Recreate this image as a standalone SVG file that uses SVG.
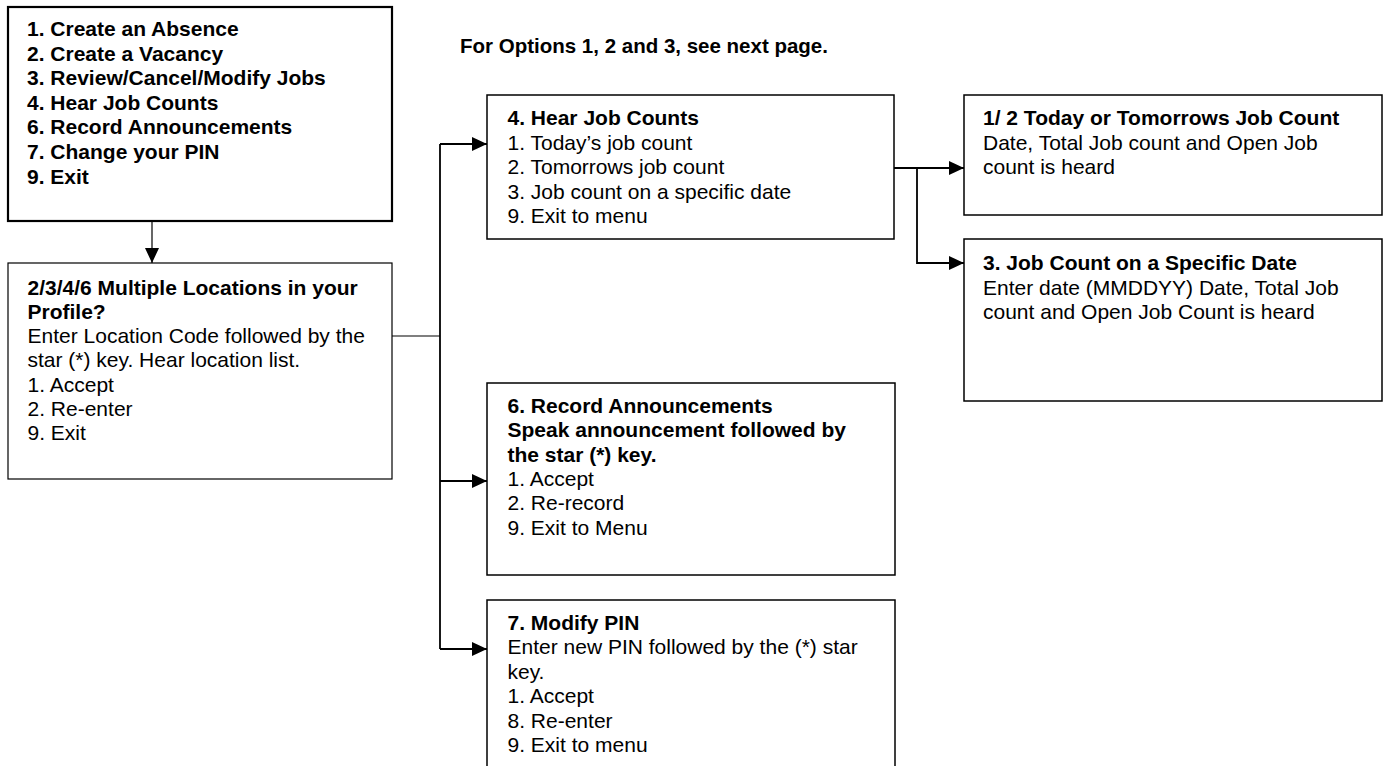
<svg xmlns="http://www.w3.org/2000/svg" width="1400" height="766" viewBox="0 0 1400 766">
  <style>
    .box { fill: #ffffff; stroke: #000000; stroke-width: 1.5; }
    .box.heavy { stroke-width: 2.2; }
    .box.light { stroke-width: 1.2; }
    .wire { fill: none; stroke: #000000; stroke-width: 1.8; }
    .wire.thin { stroke-width: 1.2; }
    text { font-family: "Liberation Sans", Arial, sans-serif; font-size: 21px; fill: #000000; }
    .b { font-weight: bold; }
  </style>
  <defs>
    <marker id="arrow" markerUnits="userSpaceOnUse" markerWidth="16" markerHeight="14" refX="15" refY="7" orient="auto">
      <path d="M0,0 L15,7 L0,14 z" fill="#000000"/>
    </marker>
  </defs>

  <rect width="1400" height="766" fill="#ffffff"/>

  <!-- connectors -->
  <g id="connectors">
    <line class="wire thin" x1="152" y1="215" x2="152" y2="263" marker-end="url(#arrow)"/>
    <polyline class="wire thin" points="392,336 440,336"/>
    <line class="wire" x1="440" y1="144" x2="440" y2="649"/>
    <line class="wire" x1="440" y1="144" x2="487" y2="144" marker-end="url(#arrow)"/>
    <line class="wire" x1="440" y1="481" x2="487" y2="481" marker-end="url(#arrow)"/>
    <line class="wire" x1="440" y1="649" x2="487" y2="649" marker-end="url(#arrow)"/>
    <line class="wire" x1="894" y1="168" x2="964" y2="168" marker-end="url(#arrow)"/>
    <polyline class="wire" points="917,168 917,263 964,263" marker-end="url(#arrow)"/>
  </g>

  <!-- main menu -->
  <g id="main-menu">
    <rect class="box heavy" x="8" y="7" width="384" height="214"/>
    <text class="b" x="27" y="36">1. Create an Absence</text>
    <text class="b" x="27" y="60.6">2. Create a Vacancy</text>
    <text class="b" x="27" y="85.2">3. Review/Cancel/Modify Jobs</text>
    <text class="b" x="27" y="109.8">4. Hear Job Counts</text>
    <text class="b" x="27" y="134.4">6. Record Announcements</text>
    <text class="b" x="27" y="159">7. Change your PIN</text>
    <text class="b" x="27" y="183.6">9. Exit</text>
  </g>

  <g id="note">
    <text class="b" x="460" y="53" style="font-size:20.5px">For Options 1, 2 and 3, see next page.</text>
  </g>

  <!-- location selection -->
  <g id="locations">
    <rect class="box light" x="8" y="263" width="384" height="216"/>
    <text class="b" x="27.5" y="294.5">2/3/4/6 Multiple Locations in your</text>
    <text class="b" x="27.5" y="318.8">Profile?</text>
    <text x="27.5" y="343.1">Enter Location Code followed by the</text>
    <text x="27.5" y="367.4">star (*) key. Hear location list.</text>
    <text x="27.5" y="391.7">1. Accept</text>
    <text x="27.5" y="416">2. Re-enter</text>
    <text x="27.5" y="440.3">9. Exit</text>
  </g>

  <!-- hear job counts -->
  <g id="job-counts">
    <rect class="box" x="487" y="95" width="407" height="144"/>
    <text class="b" x="507.5" y="125">4. Hear Job Counts</text>
    <text x="507.5" y="149.5">1. Today’s job count</text>
    <text x="507.5" y="174">2. Tomorrows job count</text>
    <text x="507.5" y="198.5">3. Job count on a specific date</text>
    <text x="507.5" y="223">9. Exit to menu</text>
  </g>

  <g id="today-tomorrow">
    <rect class="box" x="964" y="95" width="418" height="120"/>
    <text class="b" x="983" y="125">1/ 2 Today or Tomorrows Job Count</text>
    <text x="983" y="149.5">Date, Total Job count and Open Job</text>
    <text x="983" y="174">count is heard</text>
  </g>

  <g id="specific-date">
    <rect class="box" x="964" y="239" width="418" height="162"/>
    <text class="b" x="983" y="270">3. Job Count on a Specific Date</text>
    <text x="983" y="294.5">Enter date (MMDDYY) Date, Total Job</text>
    <text x="983" y="319">count and Open Job Count is heard</text>
  </g>

  <!-- record announcements -->
  <g id="announcements">
    <rect class="box" x="487" y="383" width="408" height="192"/>
    <text class="b" x="507.5" y="413">6. Record Announcements</text>
    <text class="b" x="507.5" y="437.3">Speak announcement followed by</text>
    <text class="b" x="507.5" y="461.6">the star (*) key.</text>
    <text x="507.5" y="486">1. Accept</text>
    <text x="507.5" y="510.4">2. Re-record</text>
    <text x="507.5" y="534.8">9. Exit to Menu</text>
  </g>

  <!-- modify PIN -->
  <g id="modify-pin">
    <rect class="box" x="487" y="600" width="408" height="200"/>
    <text class="b" x="507.5" y="630">7. Modify PIN</text>
    <text x="507.5" y="654.4">Enter new PIN followed by the (*) star</text>
    <text x="507.5" y="678.8">key.</text>
    <text x="507.5" y="703.2">1. Accept</text>
    <text x="507.5" y="727.6">8. Re-enter</text>
    <text x="507.5" y="752">9. Exit to menu</text>
  </g>
</svg>
